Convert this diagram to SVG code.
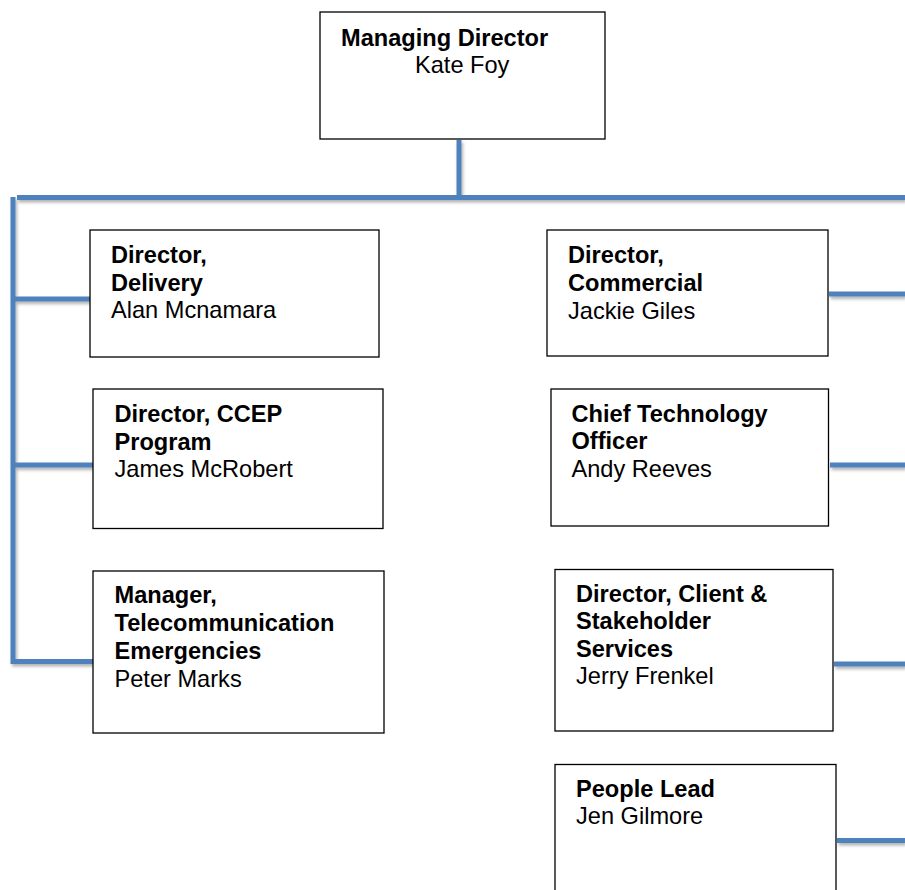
<svg xmlns="http://www.w3.org/2000/svg" width="905" height="890" viewBox="0 0 905 890">
<defs>
<style>
.box{fill:#fff;stroke:#000;stroke-width:1.3}
.t{font-family:"Liberation Sans",Arial,sans-serif;font-size:23.6px;fill:#000}
.b{font-weight:bold}
.c{stroke:#4F81BD;stroke-width:5;fill:none;stroke-linecap:butt}
</style>
<filter id="sh" x="-5%" y="-5%" width="110%" height="110%">
<feDropShadow dx="1.5" dy="2.5" stdDeviation="1.8" flood-color="#000" flood-opacity="0.3"/>
</filter>
</defs>
<rect width="905" height="890" fill="#fff"/>
<g id="connectors" filter="url(#sh)">
<path class="c" d="M459 140 V197"/>
<path class="c" d="M17 197.5 H905"/>
<path class="c" d="M13 197 V664"/>
<path class="c" d="M13 299 H90"/>
<path class="c" d="M13 465 H93"/>
<path class="c" d="M13 661.5 H93"/>
<path class="c" d="M829 294 H905"/>
<path class="c" d="M830 465 H905"/>
<path class="c" d="M834 664 H905"/>
<path class="c" d="M837 840.5 H905"/>
</g>
<g id="md">
<rect class="box" x="320" y="12" width="285" height="127"/>
<text class="t b" x="341" y="45.7">Managing Director</text>
<text class="t" x="415" y="72.7">Kate Foy</text>
</g>
<g id="delivery">
<rect class="box" x="90" y="230" width="289" height="127"/>
<text class="t b" x="111" y="262.7">Director,</text>
<text class="t b" x="111" y="290.5">Delivery</text>
<text class="t" x="111" y="318.3">Alan Mcnamara</text>
</g>
<g id="ccep">
<rect class="box" x="93" y="389" width="290" height="139.5"/>
<text class="t b" x="114.5" y="422">Director, CCEP</text>
<text class="t b" x="114.5" y="449.5">Program</text>
<text class="t" x="114.5" y="477">James McRobert</text>
</g>
<g id="telecom">
<rect class="box" x="93" y="571" width="291" height="162"/>
<text class="t b" x="114.5" y="603.3">Manager,</text>
<text class="t b" x="114.5" y="631">Telecommunication</text>
<text class="t b" x="114.5" y="658.8">Emergencies</text>
<text class="t" x="114.5" y="686.6">Peter Marks</text>
</g>
<g id="commercial">
<rect class="box" x="547" y="230" width="281" height="126"/>
<text class="t b" x="568" y="262.7">Director,</text>
<text class="t b" x="568" y="290.5">Commercial</text>
<text class="t" x="568" y="318.5">Jackie Giles</text>
</g>
<g id="cto">
<rect class="box" x="551" y="389" width="277.5" height="137"/>
<text class="t b" x="571.5" y="421.7">Chief Technology</text>
<text class="t b" x="571.5" y="449.3">Officer</text>
<text class="t" x="571.5" y="476.8">Andy Reeves</text>
</g>
<g id="client">
<rect class="box" x="555" y="569.5" width="278" height="161.5"/>
<text class="t b" x="576" y="601.5">Director, Client &amp;</text>
<text class="t b" x="576" y="629.3">Stakeholder</text>
<text class="t b" x="576" y="656.8">Services</text>
<text class="t" x="576" y="684.3">Jerry Frenkel</text>
</g>
<g id="people">
<rect class="box" x="555" y="764.5" width="281" height="140"/>
<text class="t b" x="576" y="797.3">People Lead</text>
<text class="t" x="576" y="824.3">Jen Gilmore</text>
</g>
</svg>
